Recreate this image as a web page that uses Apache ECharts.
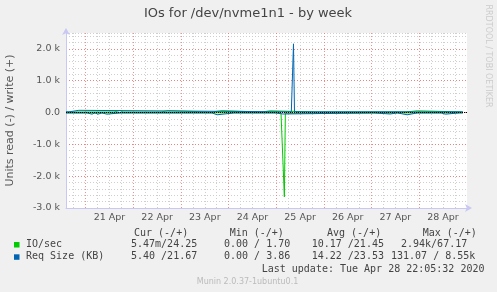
<!DOCTYPE html>
<html>
<head>
<meta charset="utf-8">
<script src="https://cdn.jsdelivr.net/npm/echarts@6/dist/echarts.min.js"></script>
<style>
html,body{margin:0;padding:0;background:#f0f0f0;}
#c{width:497px;height:292px;}
</style>
</head>
<body>
<div id="c"></div>
<script>
// ---- data (hours since 21 Apr 00:00) ----
const xLabels = ['21 Apr','22 Apr','23 Apr','24 Apr','25 Apr','26 Apr','27 Apr','28 Apr'];
const yTickLabels = ['-3.0 k','-2.0 k','-1.0 k','0.0','1.0 k','2.0 k'];

// IO/sec write (+)
const ioWriteT = [-9.9, 14.3, 14.8, 17.3, 17.8, 18.8, 19.3, 19.8, 38.0, 38.5, 41.5, 42.0, 61.2, 61.7, 62.2, 63.7, 64.2, 68.7, 69.2, 88.9, 89.4, 92.9, 93.4, 116.1, 116.6, 117.1, 136.8, 137.3, 137.8, 140.8, 141.3, 141.8, 158.0, 158.5, 159.0, 161.5, 162.0, 167.0, 167.5, 190.0];
const ioWriteV = [18, 18, 65, 65, 18, 18, 45, 18, 18, 60, 60, 18, 18, 45, 18, 18, 60, 60, 18, 18, 55, 55, 18, 18, 50, 18, 18, 50, 18, 18, 50, 18, 18, 50, 18, 18, 55, 55, 18, 18];
// IO/sec read (-)
const ioReadT = [-9.9, 98.4, 98.9, 100.1, 100.6, 101.0, 190.0];
const ioReadV = [-8, -8, -30, -2650, -20, -8, -8];
// Req Size write (+)
const reqWriteT = [-9.9, -8.4, -7.9, -3.4, -2.9, 103.6, 104.7, 105.2, 190.0];
const reqWriteV = [22, 22, 70, 70, 22, 22, 2160, 22, 22];
// Req Size read (-)
const reqReadT = [-9.9, 0.7, 1.2, 3.2, 3.7, 4.7, 5.2, 6.2, 6.7, 8.2, 8.7, 10.7, 11.2, 17.3, 17.8, 18.3, 23.3, 23.8, 24.3, 45.5, 46.0, 46.5, 49.5, 50.0, 50.5, 53.5, 54.0, 54.5, 59.7, 60.2, 60.7, 63.7, 64.2, 66.2, 66.7, 74.8, 75.3, 75.8, 90.9, 91.4, 91.9, 95.4, 95.9, 99.4, 99.9, 145.4, 145.9, 153.4, 153.9, 157.0, 157.5, 162.0, 162.5, 167.0, 167.5, 168.0, 174.6, 175.1, 175.6, 179.1, 179.6, 181.2, 181.7, 188.2, 188.7, 189.2, 190.0];
const reqReadV = [-12, -12, -50, -50, -12, -12, -50, -50, -12, -12, -50, -50, -12, -12, -40, -12, -12, -40, -12, -12, -40, -12, -12, -40, -12, -12, -40, -12, -12, -40, -12, -12, -70, -70, -12, -12, -40, -12, -12, -40, -12, -12, -45, -45, -12, -12, -45, -45, -12, -12, -70, -70, -12, -12, -40, -12, -12, -40, -12, -12, -50, -50, -12, -12, -40, -12, -12];

const legendNames = ['IO/sec', 'Req Size (KB)'];
const legendColors = ['#00cc00', '#0066b3'];
const curVals = ['5.47m/24.25', '5.40 /21.67'];
const minVals = ['0.00 / 1.70', '0.00 / 3.86'];
const avgVals = ['10.17 /21.45', '14.22 /23.53'];
const maxVals = ['2.94k/67.17', '131.07 / 8.55k'];
const headers = ['Cur (-/+)', 'Min (-/+)', 'Avg (-/+)', 'Max (-/+)'];

const X_MIN = -9.9, X_MAX = 192.1;
const zip = (t, v) => t.map((x, i) => [x, v[i]]);

const midnights = [], sixHours = [], labelHours = [];
for (let h = 0; h <= 168; h += 24) midnights.push(h);
for (let h = -6; h <= 192; h += 6) if (h % 24 !== 0) sixHours.push(h);
xLabels.forEach((_, i) => labelHours.push(i * 24 + 12));

const red = 'rgba(235,110,110,0.75)';
const gray = '#cfcfcf';
const axisCol = '#c8c8f4';
const txt = '#555';

const chart = echarts.init(document.getElementById('c'), null, {renderer: 'canvas'});

const hidden = {axisLine: {show: false}, axisTick: {show: false}, axisLabel: {show: false}};

const option = {
  animation: false,
  backgroundColor: '#f0f0f0',
  grid: {left: 66, right: 30, top: 33, bottom: 84, show: true, backgroundColor: '#ffffff', borderWidth: 0},
  xAxis: [
    Object.assign({type: 'value', min: X_MIN, max: X_MAX, position: 'bottom',
      splitLine: {show: true, lineStyle: {color: gray, type: [1, 2], width: 1}}}, hidden,
      {axisTick: {show: false, customValues: sixHours}}),
    Object.assign({type: 'value', min: X_MIN, max: X_MAX, position: 'bottom',
      splitLine: {show: true, lineStyle: {color: red, type: [1, 2], width: 1}}}, hidden,
      {axisTick: {show: false, customValues: midnights}}),
    {type: 'value', min: X_MIN, max: X_MAX, position: 'bottom',
      axisLine: {show: true, lineStyle: {color: axisCol, width: 1}, symbol: ['none', 'arrow'], symbolSize: [6, 7], symbolOffset: [0, 5]},
      axisTick: {show: false, customValues: labelHours},
      axisLabel: {customValues: labelHours, formatter: v => xLabels[Math.round((v - 12) / 24)] || '',
        color: txt, fontSize: 9.5, fontFamily: 'DejaVu Sans', margin: 5},
      splitLine: {show: false}}
  ],
  yAxis: [
    Object.assign({type: 'value', min: -3000, max: 2500, interval: 200, position: 'left',
      splitLine: {show: true, lineStyle: {color: gray, type: [1, 2], width: 1}}}, hidden),
    {type: 'value', min: -3000, max: 2500, interval: 1000, position: 'left',
      axisLine: {show: true, onZero: false, lineStyle: {color: axisCol, width: 1}, symbol: ['none', 'arrow'], symbolSize: [6, 7], symbolOffset: [0, 5]},
      axisTick: {show: false},
      axisLabel: {showMaxLabel: false, color: txt, fontSize: 9.5, fontFamily: 'DejaVu Sans', margin: 6,
        formatter: v => yTickLabels[Math.round((v + 3000) / 1000)] || ''},
      splitLine: {show: true, showMaxLine: false, lineStyle: {color: red, type: [1, 2], width: 1}}}
  ],
  series: [
    {type: 'line', name: 'IO/sec write', xAxisIndex: 2, yAxisIndex: 1, data: zip(ioWriteT, ioWriteV), showSymbol: false,
      lineStyle: {color: legendColors[0], width: 1}, z: 3},
    {type: 'line', name: 'IO/sec read', xAxisIndex: 2, yAxisIndex: 1, data: zip(ioReadT, ioReadV), showSymbol: false,
      lineStyle: {color: legendColors[0], width: 1}, z: 3},
    {type: 'line', name: 'Req write', xAxisIndex: 2, yAxisIndex: 1, data: zip(reqWriteT, reqWriteV), showSymbol: false,
      lineStyle: {color: legendColors[1], width: 1}, z: 4,
      markLine: {silent: true, symbol: 'none', label: {show: false}, animation: false,
        lineStyle: {color: '#000', type: [1, 1], width: 1}, data: [{yAxis: 0}]}},
    {type: 'line', name: 'Req read', xAxisIndex: 2, yAxisIndex: 1, data: zip(reqReadT, reqReadV), showSymbol: false,
      lineStyle: {color: legendColors[1], width: 1}, z: 4}
  ],
  graphic: []
};

const g = option.graphic;
const T = (text, x, y, style) => g.push({type: 'text', x: x, y: y, silent: true,
  style: Object.assign({text: text, fill: '#444', font: '10px "DejaVu Sans Mono"', textVerticalAlign: 'middle', verticalAlign: 'middle'}, style || {})});

T('IOs for /dev/nvme1n1 - by week', 248, 13.5, {font: '13px "DejaVu Sans"', fill: '#444', align: 'center'});
g.push({type: 'text', x: 10, y: 120.5, rotation: Math.PI / 2, silent: true,
  style: {text: 'Units read (-) / write (+)', fill: txt, font: '11px "DejaVu Sans"', align: 'center', verticalAlign: 'middle'}});
g.push({type: 'text', x: 488, y: 56, rotation: -Math.PI / 2, silent: true,
  style: {text: 'RRDTOOL / TOBI OETIKER', fill: '#cccccc', font: '8px "DejaVu Sans"', align: 'center', verticalAlign: 'middle'}});

const hx = [134, 229.7, 327, 422.7];
headers.forEach((h, i) => T(h, hx[i], 233));
const rowY = [244.5, 256.8];
const valX = [[131, 224, 311.7, 401], [131, 224, 311.7, 391]];
legendNames.forEach((n, r) => {
  g.push({type: 'rect', silent: true, shape: {x: 14, y: rowY[r] - 2.5, width: 5.5, height: 5.5}, style: {fill: legendColors[r]}});
  T(n, 26, rowY[r]);
  [curVals, minVals, avgVals, maxVals].forEach((arr, c) => T(arr[r], valX[r][c], rowY[r]));
});
T('Last update: Tue Apr 28 22:05:32 2020', 261.7, 269);
T('Munin 2.0.37-1ubuntu0.1', 247.5, 281.5, {font: '8px "DejaVu Sans"', fill: '#bbbbbb', align: 'center'});

chart.setOption(option);
</script>
</body>
</html>
